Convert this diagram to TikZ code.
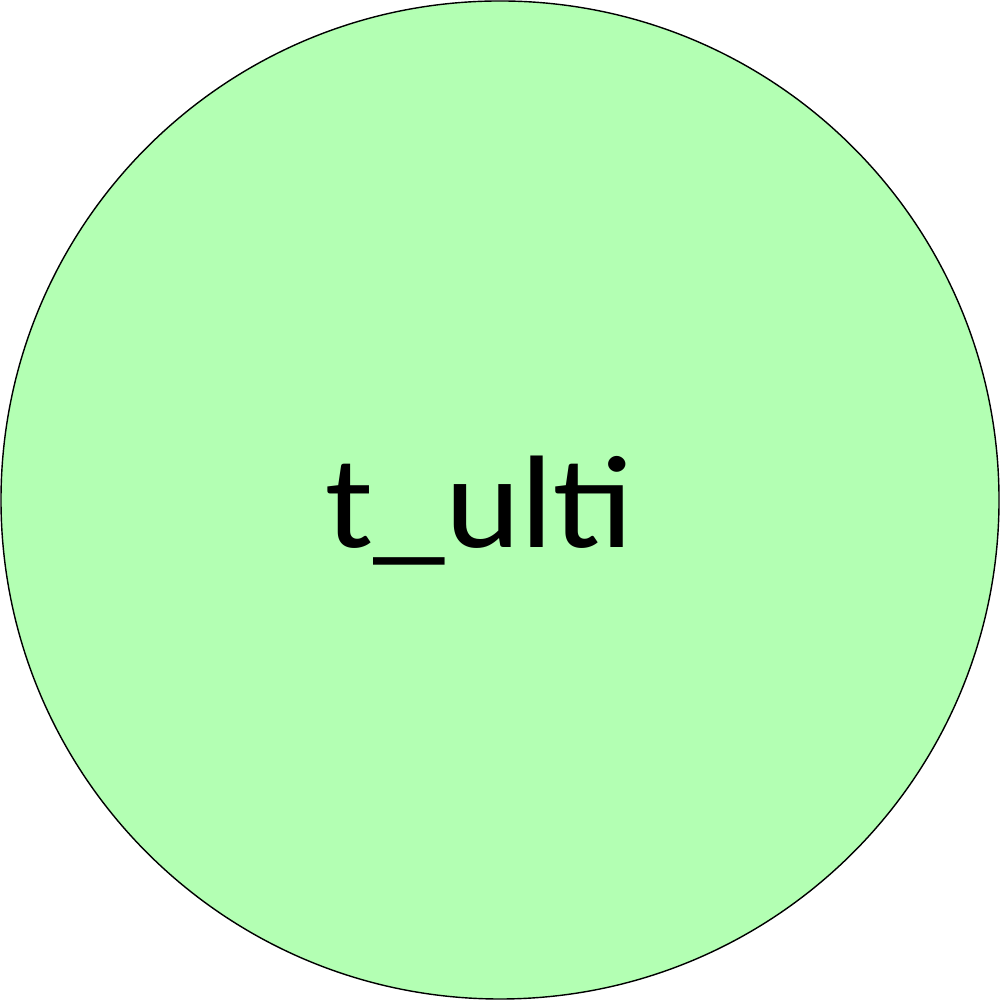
\documentclass[tikz,border=0pt]{standalone}
\usepackage{fontspec}
\setmainfont{Carlito}
\definecolor{circfill}{HTML}{B3FFB3}
\tikzset{bubble/.style={circle, draw=black, line width=0.4pt, fill=circfill, minimum size=9.98cm, inner sep=0pt}}
\begin{document}
\begin{tikzpicture}
\useasboundingbox (0,0) rectangle (10,10);
\node[bubble] (c) at (5,5) {};
\node[anchor=base, font=\fontsize{37.5}{40}\selectfont, inner sep=0pt, xscale=1.09] (t) at (4.795,4.52) {t\_ulti};
\end{tikzpicture}
\end{document}
